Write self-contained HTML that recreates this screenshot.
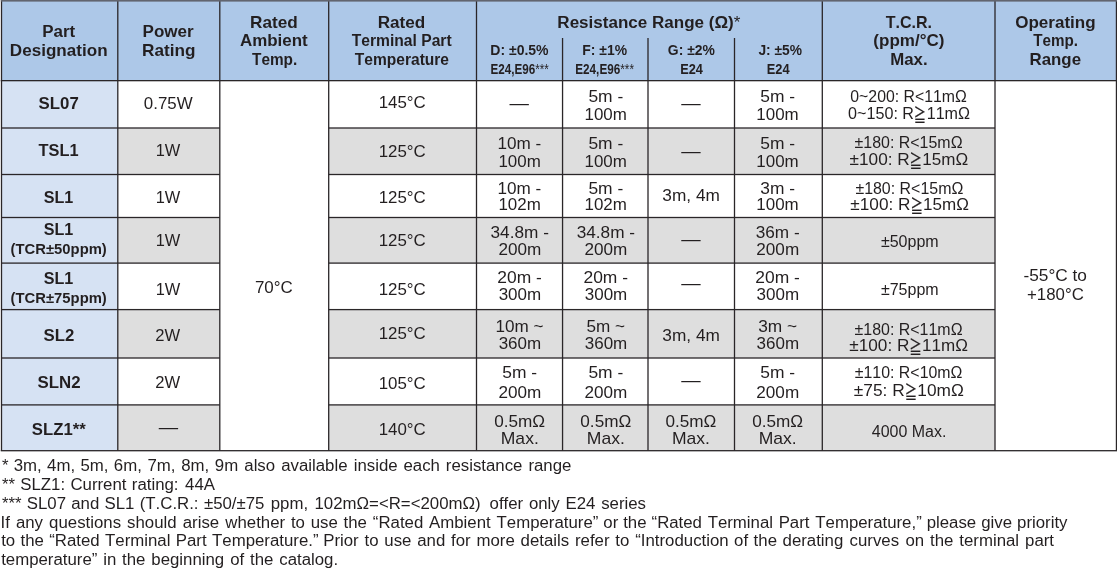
<!DOCTYPE html>
<html lang="en"><head><meta charset="utf-8"><title>Specifications</title>
<style>
html,body{margin:0;padding:0;background:#fff;}
body{width:1117px;height:568px;overflow:hidden;}
svg{display:block;}
text{font-kerning:none;font-family:"Liberation Sans","DejaVu Sans",sans-serif;fill:#231f20;text-anchor:middle;}
.h{font-weight:bold;font-size:16px;}
.s{font-weight:bold;font-size:14.1px;}
.e{font-weight:bold;font-size:14.8px;}
.t{font-weight:bold;font-size:14px;}
.b{font-size:16px;}
.d{font-size:18.2px;}
.f{font-size:16.2px;}
.g{font-family:"Liberation Sans","Noto Sans CJK JP","DejaVu Sans",sans-serif;font-size:16px;stroke:#231f20;stroke-width:0.2px;}
.n{font-weight:normal;}
.l{text-anchor:start;}
</style></head><body>
<svg width="1117" height="568" viewBox="0 0 1117 568">
<rect width="1117" height="568" fill="#ffffff"/>
<rect x="1.50" y="0.00" width="1114.95" height="80.65" fill="#adc8e8"/>
<rect x="1.50" y="80.65" width="116.30" height="370.05" fill="#d6e2f3"/>
<rect x="117.80" y="128.00" width="102.00" height="46.50" fill="#dedede"/>
<rect x="328.70" y="128.00" width="666.30" height="46.50" fill="#dedede"/>
<rect x="117.80" y="217.50" width="102.00" height="45.60" fill="#dedede"/>
<rect x="328.70" y="217.50" width="666.30" height="45.60" fill="#dedede"/>
<rect x="117.80" y="309.60" width="102.00" height="48.40" fill="#dedede"/>
<rect x="328.70" y="309.60" width="666.30" height="48.40" fill="#dedede"/>
<rect x="117.80" y="404.90" width="102.00" height="45.80" fill="#dedede"/>
<rect x="328.70" y="404.90" width="666.30" height="45.80" fill="#dedede"/>
<rect x="0.85" y="0.00" width="1.30" height="450.70" fill="#2a2628"/>
<rect x="117.15" y="0.00" width="1.30" height="450.70" fill="#2a2628"/>
<rect x="219.15" y="0.00" width="1.30" height="450.70" fill="#2a2628"/>
<rect x="328.05" y="0.00" width="1.30" height="450.70" fill="#2a2628"/>
<rect x="475.85" y="0.00" width="1.30" height="450.70" fill="#2a2628"/>
<rect x="561.90" y="38.00" width="1.30" height="412.70" fill="#2a2628"/>
<rect x="647.35" y="38.00" width="1.30" height="412.70" fill="#2a2628"/>
<rect x="733.85" y="38.00" width="1.30" height="412.70" fill="#2a2628"/>
<rect x="821.65" y="0.00" width="1.30" height="450.70" fill="#2a2628"/>
<rect x="994.35" y="0.00" width="1.30" height="450.70" fill="#2a2628"/>
<rect x="1115.80" y="0.00" width="1.30" height="450.70" fill="#2a2628"/>
<rect x="0.85" y="0.00" width="1116.25" height="1.60" fill="#62656f"/>
<rect x="1.50" y="127.35" width="218.30" height="1.30" fill="#2a2628"/>
<rect x="328.70" y="127.35" width="666.30" height="1.30" fill="#2a2628"/>
<rect x="1.50" y="173.85" width="218.30" height="1.30" fill="#2a2628"/>
<rect x="328.70" y="173.85" width="666.30" height="1.30" fill="#2a2628"/>
<rect x="1.50" y="216.85" width="218.30" height="1.30" fill="#2a2628"/>
<rect x="328.70" y="216.85" width="666.30" height="1.30" fill="#2a2628"/>
<rect x="1.50" y="262.45" width="218.30" height="1.30" fill="#2a2628"/>
<rect x="328.70" y="262.45" width="666.30" height="1.30" fill="#2a2628"/>
<rect x="1.50" y="308.95" width="218.30" height="1.30" fill="#2a2628"/>
<rect x="328.70" y="308.95" width="666.30" height="1.30" fill="#2a2628"/>
<rect x="1.50" y="357.35" width="218.30" height="1.30" fill="#2a2628"/>
<rect x="328.70" y="357.35" width="666.30" height="1.30" fill="#2a2628"/>
<rect x="1.50" y="404.25" width="218.30" height="1.30" fill="#2a2628"/>
<rect x="328.70" y="404.25" width="666.30" height="1.30" fill="#2a2628"/>
<rect x="0.75" y="80.00" width="1116.45" height="1.30" fill="#2a2628"/>
<rect x="0.75" y="450.05" width="1116.45" height="1.30" fill="#2a2628"/>
<text transform="translate(42.17 37.00) scale(1.0583 1)" class="h l">Part</text>
<text transform="translate(9.81 56.00) scale(1.0687 1)" class="h l">Designation</text>
<text transform="translate(142.56 37.00) scale(1.0642 1)" class="h l">Power</text>
<text transform="translate(142.05 56.00) scale(1.0749 1)" class="h l">Rating</text>
<text transform="translate(250.05 28.00) scale(1.0749 1)" class="h l">Rated</text>
<text transform="translate(239.98 46.00) scale(1.0583 1)" class="h l">Ambient</text>
<text transform="translate(252.03 65.00) scale(0.9599 1)" class="h l">Temp.</text>
<text transform="translate(377.65 28.00) scale(1.0702 1)" class="h l">Rated</text>
<text transform="translate(351.72 46.00) scale(0.9776 1)" class="h l">Terminal Part</text>
<text transform="translate(354.83 65.00) scale(0.9730 1)" class="h l">Temperature</text>
<text transform="translate(557.36 28.00) scale(1.0643 1)" class="h l">Resistance Range (Ω)<tspan class="n">*</tspan></text>
<text transform="translate(490.26 55.00) scale(0.9955 1)" class="s l">D: ±0.5%</text>
<text transform="translate(490.42 74.00) scale(0.7885 1)" class="e l">E24,E96<tspan class="n">***</tspan></text>
<text transform="translate(582.37 55.00) scale(0.9880 1)" class="s l">F: ±1%</text>
<text transform="translate(575.21 74.00) scale(0.7939 1)" class="e l">E24,E96<tspan class="n">***</tspan></text>
<text transform="translate(667.83 55.00) scale(0.9861 1)" class="s l">G: ±2%</text>
<text transform="translate(680.15 74.00) scale(0.8629 1)" class="e l">E24</text>
<text transform="translate(758.39 55.00) scale(0.9798 1)" class="s l">J: ±5%</text>
<text transform="translate(766.74 74.00) scale(0.8668 1)" class="e l">E24</text>
<text transform="translate(885.72 28.00) scale(1.0036 1)" class="h l">T.C.R.</text>
<text transform="translate(873.35 46.00) scale(1.0639 1)" class="h l">(ppm/°C)</text>
<text transform="translate(890.18 65.00) scale(1.0509 1)" class="h l">Max.</text>
<text transform="translate(1015.20 28.00) scale(1.0645 1)" class="h l">Operating</text>
<text transform="translate(1033.13 46.00) scale(0.9512 1)" class="h l">Temp.</text>
<text transform="translate(1029.47 65.00) scale(1.0554 1)" class="h l">Range</text>
<text transform="translate(38.62 109.00) scale(1.0518 1)" class="h l">SL07</text>
<text transform="translate(38.52 156.00) scale(1.0236 1)" class="h l">TSL1</text>
<text transform="translate(43.63 203.00) scale(1.0092 1)" class="h l">SL1</text>
<text transform="translate(43.63 235.00) scale(1.0092 1)" class="h l">SL1</text>
<text transform="translate(10.56 254.00) scale(1.0602 1)" class="t l">(TCR±50ppm)</text>
<text transform="translate(43.63 284.00) scale(1.0092 1)" class="h l">SL1</text>
<text transform="translate(10.56 303.00) scale(1.0602 1)" class="t l">(TCR±75ppm)</text>
<text transform="translate(43.62 341.00) scale(1.0516 1)" class="h l">SL2</text>
<text transform="translate(37.51 388.00) scale(1.0528 1)" class="h l">SLN2</text>
<text transform="translate(31.82 435.00) scale(1.0451 1)" class="h l">SLZ1**</text>
<text transform="translate(143.84 109.00) scale(1.0557 1)" class="b l">0.75W</text>
<text transform="translate(155.65 156.00) scale(1.0252 1)" class="b l">1W</text>
<text transform="translate(155.65 203.00) scale(1.0252 1)" class="b l">1W</text>
<text transform="translate(155.65 246.00) scale(1.0252 1)" class="b l">1W</text>
<text transform="translate(155.65 295.00) scale(1.0252 1)" class="b l">1W</text>
<text transform="translate(155.37 341.00) scale(1.0371 1)" class="b l">2W</text>
<text transform="translate(155.37 388.00) scale(1.0371 1)" class="b l">2W</text>
<text transform="translate(158.80 433) scale(1.0659 1)" class="d l">—</text>
<text transform="translate(254.93 293.00) scale(1.0606 1)" class="b l">70°C</text>
<text transform="translate(378.71 108.00) scale(1.0556 1)" class="b l">145°C</text>
<text transform="translate(378.71 157.00) scale(1.0556 1)" class="b l">125°C</text>
<text transform="translate(378.71 203.00) scale(1.0556 1)" class="b l">125°C</text>
<text transform="translate(378.71 246.00) scale(1.0556 1)" class="b l">125°C</text>
<text transform="translate(378.71 295.00) scale(1.0556 1)" class="b l">125°C</text>
<text transform="translate(378.71 339.00) scale(1.0556 1)" class="b l">125°C</text>
<text transform="translate(378.71 389.00) scale(1.0556 1)" class="b l">105°C</text>
<text transform="translate(378.71 435.00) scale(1.0556 1)" class="b l">140°C</text>
<text transform="translate(509.50 109) scale(1.0659 1)" class="d l">—</text>
<text transform="translate(497.55 149.00) scale(1.0701 1)" class="b l">10m -</text>
<text transform="translate(498.41 167.00) scale(1.0596 1)" class="b l">100m</text>
<text transform="translate(497.55 194.00) scale(1.0701 1)" class="b l">10m -</text>
<text transform="translate(498.41 210.00) scale(1.0596 1)" class="b l">102m</text>
<text transform="translate(490.54 238.00) scale(1.0771 1)" class="b l">34.8m -</text>
<text transform="translate(498.39 255.00) scale(1.0717 1)" class="b l">200m</text>
<text transform="translate(497.37 283.00) scale(1.0893 1)" class="b l">20m -</text>
<text transform="translate(498.65 300.00) scale(1.0636 1)" class="b l">300m</text>
<text transform="translate(495.45 332.00) scale(1.0680 1)" class="b l">10m ~</text>
<text transform="translate(498.65 349.00) scale(1.0636 1)" class="b l">360m</text>
<text transform="translate(502.30 378.00) scale(1.0898 1)" class="b l">5m -</text>
<text transform="translate(498.39 398.00) scale(1.0717 1)" class="b l">200m</text>
<text transform="translate(494.23 427.00) scale(1.0732 1)" class="b l">0.5mΩ</text>
<text transform="translate(500.76 444.00) scale(1.0972 1)" class="b l">Max.</text>
<text transform="translate(588.40 102.00) scale(1.0898 1)" class="b l">5m -</text>
<text transform="translate(584.51 120.00) scale(1.0596 1)" class="b l">100m</text>
<text transform="translate(588.40 149.00) scale(1.0898 1)" class="b l">5m -</text>
<text transform="translate(584.51 167.00) scale(1.0596 1)" class="b l">100m</text>
<text transform="translate(588.40 194.00) scale(1.0898 1)" class="b l">5m -</text>
<text transform="translate(584.51 210.00) scale(1.0596 1)" class="b l">102m</text>
<text transform="translate(576.64 238.00) scale(1.0771 1)" class="b l">34.8m -</text>
<text transform="translate(584.49 255.00) scale(1.0717 1)" class="b l">200m</text>
<text transform="translate(583.47 283.00) scale(1.0893 1)" class="b l">20m -</text>
<text transform="translate(584.75 300.00) scale(1.0636 1)" class="b l">300m</text>
<text transform="translate(586.56 332.00) scale(1.0705 1)" class="b l">5m ~</text>
<text transform="translate(584.75 349.00) scale(1.0636 1)" class="b l">360m</text>
<text transform="translate(588.40 378.00) scale(1.0898 1)" class="b l">5m -</text>
<text transform="translate(584.49 398.00) scale(1.0717 1)" class="b l">200m</text>
<text transform="translate(580.33 427.00) scale(1.0732 1)" class="b l">0.5mΩ</text>
<text transform="translate(586.86 444.00) scale(1.0972 1)" class="b l">Max.</text>
<text transform="translate(681.20 109) scale(1.0659 1)" class="d l">—</text>
<text transform="translate(681.20 157) scale(1.0659 1)" class="d l">—</text>
<text transform="translate(662.34 201.00) scale(1.0797 1)" class="b l">3m, 4m</text>
<text transform="translate(681.20 245) scale(1.0659 1)" class="d l">—</text>
<text transform="translate(681.20 289) scale(1.0659 1)" class="d l">—</text>
<text transform="translate(662.34 341.00) scale(1.0797 1)" class="b l">3m, 4m</text>
<text transform="translate(681.20 386) scale(1.0659 1)" class="d l">—</text>
<text transform="translate(665.43 427.00) scale(1.0732 1)" class="b l">0.5mΩ</text>
<text transform="translate(671.96 444.00) scale(1.0972 1)" class="b l">Max.</text>
<text transform="translate(760.20 102.00) scale(1.0898 1)" class="b l">5m -</text>
<text transform="translate(756.31 120.00) scale(1.0596 1)" class="b l">100m</text>
<text transform="translate(760.20 149.00) scale(1.0898 1)" class="b l">5m -</text>
<text transform="translate(756.31 167.00) scale(1.0596 1)" class="b l">100m</text>
<text transform="translate(760.29 194.00) scale(1.0854 1)" class="b l">3m -</text>
<text transform="translate(756.31 210.00) scale(1.0596 1)" class="b l">100m</text>
<text transform="translate(755.70 238.00) scale(1.0738 1)" class="b l">36m -</text>
<text transform="translate(756.29 255.00) scale(1.0717 1)" class="b l">200m</text>
<text transform="translate(755.27 283.00) scale(1.0893 1)" class="b l">20m -</text>
<text transform="translate(756.55 300.00) scale(1.0636 1)" class="b l">300m</text>
<text transform="translate(758.19 332.00) scale(1.0811 1)" class="b l">3m ~</text>
<text transform="translate(756.55 349.00) scale(1.0636 1)" class="b l">360m</text>
<text transform="translate(760.20 378.00) scale(1.0898 1)" class="b l">5m -</text>
<text transform="translate(756.29 398.00) scale(1.0717 1)" class="b l">200m</text>
<text transform="translate(752.13 427.00) scale(1.0732 1)" class="b l">0.5mΩ</text>
<text transform="translate(758.66 444.00) scale(1.0972 1)" class="b l">Max.</text>
<text transform="translate(850.28 102.00) scale(0.9906 1)" class="b l">0~200: R&lt;11mΩ</text>
<text transform="translate(848.07 119.00) scale(1.0099 1)" class="b l">0~150: R</text>
<text transform="translate(913.84 122.00) scale(0.7712 1.1211)" class="g l">≧</text>
<text transform="translate(926.67 119.00) scale(1.0078 1)" class="b l">11mΩ</text>
<text transform="translate(854.59 148.00) scale(0.9967 1)" class="b l">±180: R&lt;15mΩ</text>
<text transform="translate(849.55 165.00) scale(1.0755 1)" class="b l">±100: R</text>
<text transform="translate(909.61 168.00) scale(0.7873 1.1211)" class="g l">≧</text>
<text transform="translate(922.30 165.00) scale(1.0661 1)" class="b l">15mΩ</text>
<text transform="translate(855.39 194.00) scale(0.9967 1)" class="b l">±180: R&lt;15mΩ</text>
<text transform="translate(850.35 210.00) scale(1.0755 1)" class="b l">±100: R</text>
<text transform="translate(910.41 213.00) scale(0.7873 1.1211)" class="g l">≧</text>
<text transform="translate(923.10 210.00) scale(1.0661 1)" class="b l">15mΩ</text>
<text transform="translate(880.89 247.00) scale(1.0011 1)" class="b l">±50ppm</text>
<text transform="translate(880.89 295.00) scale(1.0011 1)" class="b l">±75ppm</text>
<text transform="translate(854.59 335.00) scale(0.9967 1)" class="b l">±180: R&lt;11mΩ</text>
<text transform="translate(849.25 351.00) scale(1.0755 1)" class="b l">±100: R</text>
<text transform="translate(909.31 354.00) scale(0.7873 1.1211)" class="g l">≧</text>
<text transform="translate(922.00 351.00) scale(1.0661 1)" class="b l">11mΩ</text>
<text transform="translate(854.79 378.00) scale(0.9948 1)" class="b l">±110: R&lt;10mΩ</text>
<text transform="translate(853.75 396.00) scale(1.0836 1)" class="b l">±75: R</text>
<text transform="translate(904.63 399.00) scale(0.7792 1.1211)" class="g l">≧</text>
<text transform="translate(917.28 396.00) scale(1.0806 1)" class="b l">10mΩ</text>
<text transform="translate(871.83 437.00) scale(0.9989 1)" class="b l">4000 Max.</text>
<text transform="translate(1023.43 281.00) scale(1.0803 1)" class="b l">-55°C to</text>
<text transform="translate(1026.98 300.00) scale(1.0532 1)" class="b l">+180°C</text>
<text transform="translate(1.88 471) scale(1.038 1)" class="f l" xml:space="preserve" style="word-spacing:0.62px">* 3m, 4m, 5m, </text>
<text transform="translate(113.80 471) scale(1.038 1)" class="f l" xml:space="preserve" style="word-spacing:0.95px">6m, 7m, 8m, </text>
<text transform="translate(214.86 471) scale(1.038 1)" class="f l" xml:space="preserve" style="word-spacing:1.37px">9m also available </text>
<text transform="translate(353.73 471) scale(1.038 1)" class="f l" xml:space="preserve" style="word-spacing:1.17px">inside each resistance </text>
<text transform="translate(528.43 471) scale(1.038 1)" class="f l" xml:space="preserve" style="word-spacing:0.00px">range</text>
<text transform="translate(1.88 490) scale(1.038 1)" class="f l" xml:space="preserve" style="word-spacing:0.62px">** SLZ1: Current </text>
<text transform="translate(131.83 490) scale(1.038 1)" class="f l" xml:space="preserve" style="word-spacing:1.76px">rating: 44A</text>
<text transform="translate(1.88 509) scale(1.038 1)" class="f l" xml:space="preserve" style="word-spacing:0.57px">*** SL07 and SL1 (T.C.R.: </text>
<text transform="translate(203.92 509) scale(1.038 1)" class="f l" xml:space="preserve" style="word-spacing:1.58px">±50/±75 ppm, </text>
<text transform="translate(314.47 509) scale(1.038 1)" class="f l" xml:space="preserve" style="word-spacing:3.96px">102mΩ=&lt;R=&lt;200mΩ) </text>
<text transform="translate(489.54 509) scale(1.038 1)" class="f l" xml:space="preserve" style="word-spacing:1.03px">offer only E24 </text>
<text transform="translate(601.18 509) scale(1.038 1)" class="f l" xml:space="preserve" style="word-spacing:0.00px">series</text>
<text transform="translate(0.50 528) scale(1.038 1)" class="f l" xml:space="preserve" style="word-spacing:1.36px">If any questions should arise </text>
<text transform="translate(225.37 528) scale(1.038 1)" class="f l" xml:space="preserve" style="word-spacing:1.07px">whether to use the </text>
<text transform="translate(372.83 528) scale(1.038 1)" class="f l" xml:space="preserve" style="word-spacing:1.08px">“Rated Ambient </text>
<text transform="translate(496.57 528) scale(1.038 1)" class="f l" xml:space="preserve" style="word-spacing:0.24px">Temperature” or the </text>
<text transform="translate(651.53 528) scale(1.038 1)" class="f l" xml:space="preserve" style="word-spacing:0.96px">“Rated Terminal Part </text>
<text transform="translate(815.27 528) scale(1.038 1)" class="f l" xml:space="preserve" style="word-spacing:0.27px">Temperature,” please give </text>
<text transform="translate(1017.07 528) scale(1.038 1)" class="f l" xml:space="preserve" style="word-spacing:0.00px">priority</text>
<text transform="translate(1.15 546) scale(1.038 1)" class="f l" xml:space="preserve" style="word-spacing:0.66px">to the “Rated Terminal Part </text>
<text transform="translate(212.07 546) scale(1.038 1)" class="f l" xml:space="preserve" style="word-spacing:-0.10px">Temperature.” </text>
<text transform="translate(323.17 546) scale(1.038 1)" class="f l" xml:space="preserve" style="word-spacing:1.10px">Prior to use and for </text>
<text transform="translate(476.53 546) scale(1.038 1)" class="f l" xml:space="preserve" style="word-spacing:1.08px">more details refer to </text>
<text transform="translate(635.23 546) scale(1.038 1)" class="f l" xml:space="preserve" style="word-spacing:0.78px">“Introduction of the </text>
<text transform="translate(782.54 546) scale(1.038 1)" class="f l" xml:space="preserve" style="word-spacing:1.57px">derating curves </text>
<text transform="translate(905.44 546) scale(1.038 1)" class="f l" xml:space="preserve" style="word-spacing:1.19px">on the terminal </text>
<text transform="translate(1025.07 546) scale(1.038 1)" class="f l" xml:space="preserve" style="word-spacing:0.00px">part</text>
<text transform="translate(1.15 565) scale(1.038 1)" class="f l" xml:space="preserve" style="word-spacing:1.12px">temperature” in the beginning </text>
<text transform="translate(230.14 565) scale(1.038 1)" class="f l" xml:space="preserve" style="word-spacing:1.13px">of the </text>
<text transform="translate(279.24 565) scale(1.038 1)" class="f l" xml:space="preserve" style="word-spacing:0.00px">catalog.</text>
</svg>
</body></html>
